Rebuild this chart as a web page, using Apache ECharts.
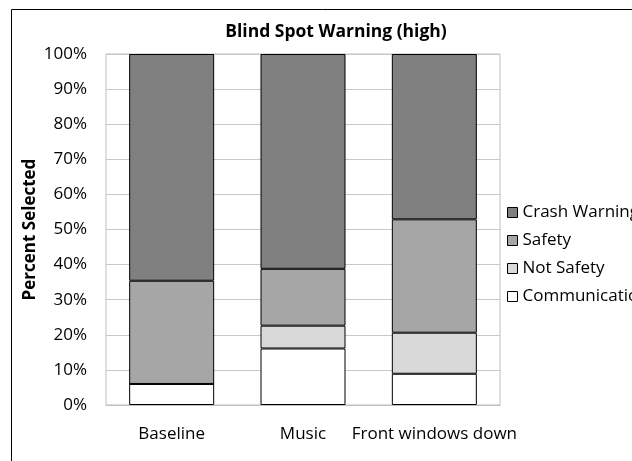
<!DOCTYPE html>
<html>
<head>
<meta charset="utf-8">
<script src="https://cdn.jsdelivr.net/npm/echarts@6/dist/echarts.min.js"></script>
<style>html,body{margin:0;padding:0;background:#fff}#c{width:632px;height:461px}</style>
</head>
<body>
<div id="c"></div>
<script>
const categories = ['Baseline', 'Music', 'Front windows down'];
const communication = [6.0, 16.1, 8.9];
const notSafety = [0, 6.5, 11.7];
const safety = [29.4, 16.2, 32.3];
const crashWarning = [64.6, 61.2, 47.1];
const yTicks = [0, 10, 20, 30, 40, 50, 60, 70, 80, 90, 100];

const FONT = 'Open Sans';
const chart = echarts.init(document.getElementById('c'), null, {renderer: 'canvas'});
const barStyle = (color) => ({color: color, borderColor: '#000', borderWidth: 1});
const mk = (name, data, color) => ({
  name: name, type: 'bar', stack: 'total', data: data, barWidth: 85,
  itemStyle: barStyle(color), emphasis: {disabled: true}
});
chart.setOption({
  animation: false,
  backgroundColor: '#fff',
  graphic: [{type: 'rect', shape: {x: 11.5, y: 9.5, width: 700, height: 500},
    style: {fill: 'none', stroke: '#000', lineWidth: 1}, z: -1}],
  title: {text: 'Blind Spot Warning (high)', left: 331, top: 17, textAlign: 'center',
    textStyle: {fontFamily: FONT, fontSize: 17.5, lineHeight: 20, fontWeight: 'bold', color: '#000'}},
  legend: {
    orient: 'vertical', left: 502, top: 199, itemWidth: 10, itemHeight: 10, itemGap: 11,
    icon: 'rect', data: ['Crash Warning', 'Safety', 'Not Safety', 'Communication'],
    textStyle: {fontFamily: FONT, fontSize: 17, lineHeight: 17, color: '#000'},
    itemStyle: {borderColor: '#000', borderWidth: 1}, selectedMode: false
  },
  grid: {left: 106, right: 132, top: 54, bottom: 56, show: true, borderColor: '#bfbfbf', borderWidth: 1, containLabel: false},
  xAxis: {
    type: 'category', data: categories,
    axisLine: {lineStyle: {color: '#bfbfbf'}}, axisTick: {show: false},
    axisLabel: {fontFamily: FONT, fontSize: 17, lineHeight: 17, color: '#000', margin: 21, interval: 0}
  },
  yAxis: {
    type: 'value', min: 0, max: 100, interval: 10,
    name: 'Percent Selected', nameLocation: 'middle', nameGap: 67, nameRotate: 90,
    nameMoveOverlap: false,
    nameTextStyle: {fontFamily: FONT, fontSize: 17, fontWeight: 'bold', color: '#000'},
    axisLine: {show: false}, axisTick: {show: false},
    splitLine: {lineStyle: {color: '#c8c8c8'}},
    axisLabel: {fontFamily: FONT, fontSize: 17, color: '#000', margin: 19,
      formatter: (v) => yTicks.includes(v) ? v + '%' : ''}
  },
  series: [
    mk('Communication', communication, '#ffffff'),
    mk('Not Safety', notSafety, '#d9d9d9'),
    mk('Safety', safety, '#a6a6a6'),
    mk('Crash Warning', crashWarning, '#808080')
  ]
});
</script>
</body>
</html>
